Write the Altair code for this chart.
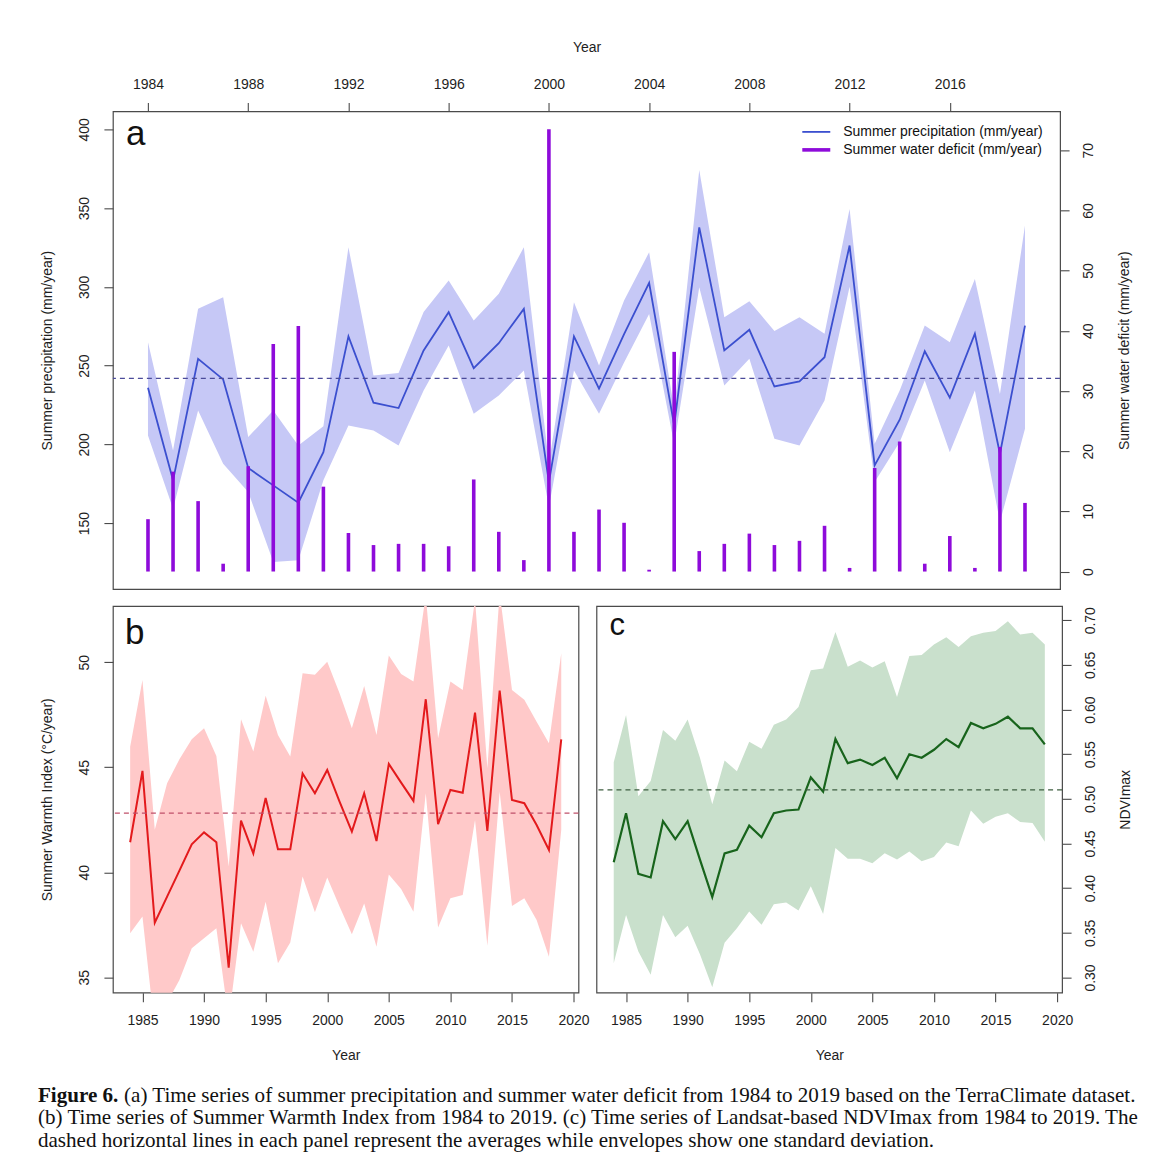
import altair as alt
import pandas as pd

# ---------------- data ----------------
years = list(range(1984, 2020))

precip = [235.9, 177.1, 254.3, 241.2, 184.9, 173.9, 162.9, 195.0, 268.5, 226.4,
          223.0, 259.6, 283.9, 248.4, 264.2, 286.0, 176.0, 268.5, 235.3, 270.0,
          302.5, 212.0, 337.8, 259.6, 272.7, 236.7, 239.9, 255.3, 326.2, 186.6,
          215.6, 259.1, 229.6, 270.2, 194.0, 275.4]
precip_upper = [264.8, 196.1, 286.0, 293.4, 204.6, 221.5, 199.3, 211.4, 325.1, 243.7,
                245.2, 284.0, 304.0, 278.6, 295.6, 325.1, 188.0, 290.2, 250.0, 291.3,
                322.0, 222.0, 374.2, 280.7, 290.9, 272.0, 280.7, 270.2, 349.5, 200.4,
                234.2, 275.4, 264.8, 305.0, 232.0, 338.9]
precip_lower = [205.6, 159.1, 221.5, 187.7, 169.7, 125.2, 126.3, 177.1, 212.0, 208.8,
                199.3, 234.2, 262.8, 219.4, 231.0, 246.8, 160.1, 246.8, 219.4, 252.0,
                282.7, 200.0, 299.7, 237.4, 254.3, 203.5, 199.3, 227.8, 300.0, 176.0,
                201.4, 240.5, 195.0, 234.2, 150.6, 209.9]
deficit = [8.7, 16.6, 11.7, 1.3, 17.5, 37.8, 40.8, 14.1, 6.4, 4.4,
           4.6, 4.6, 4.2, 15.3, 6.6, 1.9, 73.5, 6.6, 10.3, 8.1,
           0.3, 36.5, 3.4, 4.6, 6.3, 4.4, 5.1, 7.6, 0.6, 17.2,
           21.6, 1.3, 5.9, 0.6, 20.7, 11.4]

swi = [41.43, 44.83, 37.60, 38.84, 40.08, 41.33, 41.90, 41.43, 35.46, 42.46,
       40.90, 43.54, 41.10, 41.10, 44.70, 43.76, 44.87, 43.37, 41.94, 43.76,
       41.49, 45.16, 44.27, 43.40, 48.24, 42.29, 43.92, 43.79, 47.60, 41.97,
       48.65, 43.44, 43.29, 42.25, 41.06, 46.33]
swi_upper = [45.98, 49.16, 42.02, 44.24, 45.38, 46.33, 46.86, 45.54, 40.27, 47.29,
             45.75, 48.41, 46.54, 45.51, 49.48, 49.40, 50.03, 48.52, 46.86, 48.87,
             46.54, 50.32, 49.44, 49.08, 53.20, 46.38, 49.08, 48.68, 53.00, 44.95,
             53.30, 48.68, 48.21, 47.17, 46.14, 50.43]
swi_lower = [37.10, 37.89, 32.50, 33.80, 34.87, 36.38, 36.86, 37.33, 33.00, 37.57,
             36.22, 38.60, 35.67, 36.66, 39.80, 38.10, 39.75, 38.37, 37.05, 38.52,
             36.46, 39.90, 39.20, 38.12, 43.76, 37.37, 38.76, 38.92, 42.49, 36.50,
             43.84, 38.40, 38.76, 37.73, 35.98, 42.02]

ndvi = [0.429, 0.484, 0.416, 0.412, 0.475, 0.455, 0.475, 0.432, 0.390, 0.439,
        0.443, 0.470, 0.457, 0.484, 0.487, 0.488, 0.524, 0.508, 0.567, 0.540,
        0.544, 0.538, 0.546, 0.523, 0.550, 0.546, 0.555, 0.567, 0.558, 0.585,
        0.579, 0.584, 0.592, 0.579, 0.579, 0.561]
ndvi_upper = [0.541, 0.594, 0.503, 0.520, 0.577, 0.565, 0.589, 0.546, 0.494, 0.543,
              0.531, 0.564, 0.556, 0.583, 0.589, 0.603, 0.644, 0.646, 0.687, 0.648,
              0.655, 0.647, 0.654, 0.614, 0.660, 0.661, 0.673, 0.681, 0.670, 0.682,
              0.686, 0.688, 0.699, 0.684, 0.686, 0.673]
ndvi_lower = [0.316, 0.370, 0.329, 0.303, 0.370, 0.345, 0.358, 0.326, 0.289, 0.339,
              0.355, 0.374, 0.359, 0.382, 0.384, 0.375, 0.402, 0.371, 0.445, 0.433,
              0.433, 0.428, 0.439, 0.432, 0.441, 0.430, 0.435, 0.451, 0.447, 0.487,
              0.472, 0.480, 0.484, 0.474, 0.473, 0.452]

top_ticks = [1984, 1988, 1992, 1996, 2000, 2004, 2008, 2012, 2016]
bottom_ticks = [1985, 1990, 1995, 2000, 2005, 2010, 2015, 2020]
precip_ticks = [150, 200, 250, 300, 350, 400]
deficit_ticks = [0, 10, 20, 30, 40, 50, 60, 70]
swi_ticks = [35, 40, 45, 50]
ndvi_ticks = [0.30, 0.35, 0.40, 0.45, 0.50, 0.55, 0.60, 0.65, 0.70]

series_names = ["Summer precipitation (mm/year)", "Summer water deficit (mm/year)"]

caption_bold = "Figure 6."
caption_lines = [
    "(a) Time series of summer precipitation and summer water deficit from 1984 to 2019 based on the TerraClimate dataset.",
    "(b) Time series of Summer Warmth Index from 1984 to 2019. (c) Time series of Landsat-based NDVImax from 1984 to 2019. The",
    "dashed horizontal lines in each panel represent the averages while envelopes show one standard deviation.",
]

# ---------------- style ----------------
FONT = "Liberation Sans"
SERIF = "Liberation Serif"
INK = "#1e1e1e"
FRAME = "#4a4a4a"
BAND_A, LINE_A, BAR, MEAN_A = "#C6C8F6", "#3B4FCF", "#8E0BDA", "#4B4B9A"
BAND_B, LINE_B, MEAN_B = "#FFC9C9", "#E31A1C", "#C0506A"
BAND_C, LINE_C, MEAN_C = "#C9E0CC", "#18641C", "#3E5E40"

X_DOMAIN = [1982.6, 2020.4]
W_A, H_A = 948, 478
W_B, H_B = 466, 387
CAP_SIZE = 21.1


def make_axis(orient, values, title, fmt="d", label_pad=8, title_pad=26, extent=31):
    kw = dict(orient=orient, values=values, title=title, format=fmt,
              tickSize=9, tickWidth=1.1, tickColor=FRAME, domain=False, grid=False,
              labelFont=FONT, labelFontSize=14, labelColor=INK, labelPadding=label_pad,
              labelFlush=False, labelOverlap=False,
              titleFont=FONT, titleFontSize=14, titleFontWeight="normal", titleColor=INK,
              titlePadding=title_pad, minExtent=extent, maxExtent=extent)
    if orient == "left":
        kw.update(labelAngle=270, labelAlign="center", labelBaseline="bottom",
                  titleAngle=270, titleBaseline="bottom")
    elif orient == "right":
        kw.update(labelAngle=270, labelAlign="center", labelBaseline="top",
                  titleAngle=270, titleBaseline="top")
    return alt.Axis(**kw)


def text_layer(txt, x, y, size, font=FONT, weight="normal", baseline="alphabetic"):
    return alt.Chart(pd.DataFrame({"t": [txt]})).mark_text(
        align="left", baseline=baseline, font=font, fontSize=size,
        fontWeight=weight, color="#111111"
    ).encode(text="t:N", x=alt.value(x), y=alt.value(y))


def legend_key(color, width, y):
    return alt.Chart(pd.DataFrame({"k": [0]})).mark_rule(
        color=color, strokeWidth=width, strokeCap="butt"
    ).encode(x=alt.value(690), x2=alt.value(718), y=alt.value(y))


x_scale = alt.Scale(domain=X_DOMAIN, nice=False, zero=False)

# ---------------- panel a ----------------
df_a = pd.DataFrame({"year": years, "precip": precip, "p_lo": precip_lower,
                     "p_hi": precip_upper, "deficit": deficit})
top_axis = make_axis("top", top_ticks, "Year", label_pad=11, title_pad=26, extent=31)
left_a = make_axis("left", precip_ticks, "Summer precipitation (mm/year)",
                   label_pad=12, title_pad=28, extent=30)
right_a = make_axis("right", deficit_ticks, "Summer water deficit (mm/year)",
                    label_pad=12, title_pad=22, extent=35)
xa = alt.X("year:Q", scale=x_scale, axis=top_axis)
p_scale = alt.Scale(domain=[108.1, 411.4], nice=False, zero=False)
d_scale = alt.Scale(domain=[-2.9, 76.45], nice=False, zero=False)

band_a = alt.Chart(df_a).mark_area(color=BAND_A, opacity=1).encode(
    x=xa, y=alt.Y("p_lo:Q", scale=p_scale, axis=left_a), y2="p_hi:Q")
line_a = alt.Chart(df_a).mark_line(color=LINE_A, strokeWidth=1.8).encode(
    x=xa, y=alt.Y("precip:Q", scale=p_scale, axis=left_a))
mean_a = alt.Chart(df_a).mark_rule(color=MEAN_A, strokeDash=[5, 4], strokeWidth=1.2).encode(
    y=alt.Y("mean(precip):Q", scale=p_scale, axis=left_a))
bars_a = alt.Chart(df_a).mark_rule(color=BAR, strokeWidth=3.6, strokeCap="butt").encode(
    x=xa, y=alt.Y("deficit:Q", scale=d_scale, axis=right_a), y2=alt.datum(0))
label_a = text_layer("a", 13, 34, 35)
legend_layers = [
    legend_key(LINE_A, 1.8, 20.5),
    legend_key(BAR, 3.6, 38.5),
    text_layer(series_names[0], 731, 20.5, 14, baseline="middle"),
    text_layer(series_names[1], 731, 38.5, 14, baseline="middle"),
]

panel_a = alt.layer(alt.layer(band_a, line_a, mean_a), bars_a, label_a,
                    *legend_layers).resolve_scale(
    y="independent").properties(width=W_A, height=H_A)

# ---------------- panel b ----------------
df_b = pd.DataFrame({"year": years, "swi": swi, "lo": swi_lower, "hi": swi_upper})
bottom_axis = make_axis("bottom", bottom_ticks, "Year", label_pad=12, title_pad=21, extent=35)
left_b = make_axis("left", swi_ticks, "Summer Warmth Index (°C/year)",
                   label_pad=12, title_pad=28, extent=30)
xb = alt.X("year:Q", scale=x_scale, axis=bottom_axis)
s_scale = alt.Scale(domain=[34.27, 52.68], nice=False, zero=False)

band_b = alt.Chart(df_b).mark_area(color=BAND_B, opacity=1, clip=True).encode(
    x=xb, y=alt.Y("lo:Q", scale=s_scale, axis=left_b), y2="hi:Q")
line_b = alt.Chart(df_b).mark_line(color=LINE_B, strokeWidth=2, clip=True).encode(
    x=xb, y=alt.Y("swi:Q", scale=s_scale, axis=left_b))
mean_b = alt.Chart(df_b).mark_rule(color=MEAN_B, strokeDash=[5, 4], strokeWidth=1.2).encode(
    y=alt.Y("mean(swi):Q", scale=s_scale, axis=left_b))
label_b = text_layer("b", 12, 38, 35)

CAP_X = -75
bold_w = 3.833 * CAP_SIZE + 0.25 * CAP_SIZE
cap_layers = [
    text_layer(caption_bold, CAP_X, 496, CAP_SIZE, font=SERIF, weight="bold"),
    text_layer(caption_lines[0], CAP_X + bold_w, 496, CAP_SIZE, font=SERIF),
    text_layer(caption_lines[1], CAP_X, 518.5, CAP_SIZE, font=SERIF),
    text_layer(caption_lines[2], CAP_X, 541, CAP_SIZE, font=SERIF),
]

panel_b = alt.layer(band_b, line_b, mean_b, label_b, *cap_layers).properties(width=W_B, height=H_B)

# ---------------- panel c ----------------
df_c = pd.DataFrame({"year": years, "ndvi": ndvi, "lo": ndvi_lower, "hi": ndvi_upper})
right_c = make_axis("right", ndvi_ticks, "NDVImax", fmt=".2f",
                    label_pad=12, title_pad=21, extent=35)
xc = alt.X("year:Q", scale=x_scale, axis=bottom_axis)
n_scale = alt.Scale(domain=[0.283, 0.716], nice=False, zero=False)

band_c = alt.Chart(df_c).mark_area(color=BAND_C, opacity=1, clip=True).encode(
    x=xc, y=alt.Y("lo:Q", scale=n_scale, axis=right_c), y2="hi:Q")
line_c = alt.Chart(df_c).mark_line(color=LINE_C, strokeWidth=2.2, clip=True).encode(
    x=xc, y=alt.Y("ndvi:Q", scale=n_scale, axis=right_c))
mean_c = alt.Chart(df_c).mark_rule(color=MEAN_C, strokeDash=[5, 4], strokeWidth=1.2).encode(
    y=alt.Y("mean(ndvi):Q", scale=n_scale, axis=right_c))
label_c = text_layer("c", 13, 29, 31)

panel_c = alt.layer(band_c, line_c, mean_c, label_c).properties(width=W_B, height=H_B)

# ---------------- assemble ----------------
bottom_row = alt.hconcat(panel_b, panel_c, spacing=18, bounds="flush")
chart = alt.vconcat(panel_a, bottom_row, spacing=17, bounds="flush").properties(
    padding={"left": 29, "top": 31, "right": 5, "bottom": 5}
).configure(font=FONT).configure_view(stroke=FRAME, strokeWidth=1.2)

chart.save("out.html", embed_options={"renderer": "svg", "actions": False})
